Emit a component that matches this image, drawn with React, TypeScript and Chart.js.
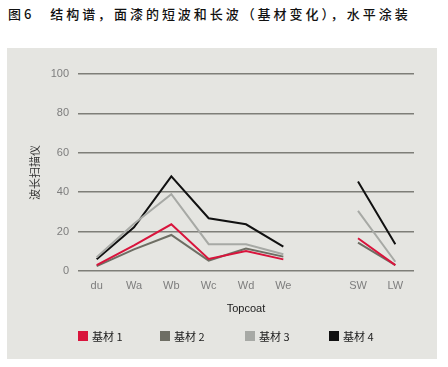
import React, { useEffect, useRef } from "react";
import { Chart, registerables } from "chart.js";

Chart.register(...registerables);

const titleText = "图6　结构谱，面漆的短波和长波（基材变化），水平涂装";
const categories = ["du", "Wa", "Wb", "Wc", "Wd", "We", "", "SW", "LW"];
const seriesNames = ["基材 1", "基材 2", "基材 3", "基材 4"];
const series1 = [3, 13, 23.7, 6.1, 10.2, 5.9, null, 16.6, 3];
const series2 = [2.5, 11, 18.3, 5.3, 11.4, 7.3, null, 14.4, 3];
const series3 = [7, 24, 39, 13.6, 13.6, 8.5, null, 30.5, 4.7];
const series4 = [6, 22.2, 48, 26.8, 23.7, 12.4, null, 45.4, 13.6];
const colors = ["#d9143c", "#6e6e64", "#a7a9a5", "#111111"];
const yTicks = [0, 20, 40, 60, 80, 100];
const xTitle = "Topcoat";
const yTitle = "波长扫描仪";

export default function App() {
  const ref = useRef<HTMLCanvasElement>(null);
  useEffect(() => {
    if (!ref.current) return;
    const allSeries = [series1, series2, series3, series4];
    const chart = new Chart(ref.current, {
      type: "line",
      data: {
        labels: categories,
        datasets: allSeries.map((d, i) => ({
          label: seriesNames[i],
          data: d,
          borderColor: colors[i],
          backgroundColor: colors[i],
          borderWidth: 2,
          pointRadius: 0,
          tension: 0,
          spanGaps: false,
        })),
      },
      options: {
        animation: false,
        responsive: false,
        maintainAspectRatio: false,
        layout: { padding: { top: 26, right: 23, left: 0, bottom: 38 } },
        plugins: {
          tooltip: { enabled: false },
          legend: { display: false },
        },
        scales: {
          x: {
            offset: true,
            afterFit: (scale: any) => {
              scale.height = 50;
            },
            grid: { display: false, drawTicks: false },
            border: { display: false },
            ticks: {
              color: "#7d7d7d",
              padding: 8,
              font: { family: "'Liberation Sans', sans-serif", size: 11 },
              maxRotation: 0,
              autoSkip: false,
            },
            title: {
              display: true,
              text: xTitle,
              color: "#222",
              padding: { top: 0, bottom: 5 },
              font: { family: "'Liberation Sans', sans-serif", size: 11 },
            },
          },
          y: {
            min: 0,
            max: 100,
            afterBuildTicks: (scale: any) => {
              scale.ticks = yTicks.map((v) => ({ value: v }));
            },
            afterFit: (scale: any) => {
              scale.width = 71;
            },
            grid: { color: "#7e7e78", lineWidth: 1.5, drawTicks: false },
            border: { display: false },
            ticks: {
              color: "#7d7d7d",
              padding: 9,
              font: { family: "'Liberation Sans', sans-serif", size: 11 },
            },
            title: {
              display: true,
              text: yTitle,
              color: "#333",
              padding: { top: 21, bottom: 0 },
              font: { family: "'Noto Sans CJK SC', sans-serif", size: 11 },
            },
          },
        },
      },
    });
    return () => chart.destroy();
  }, []);

  const legendX = [71, 153, 238, 322];

  return (
    <div style={{ position: "absolute", left: 0, top: 0, width: 448, height: 367, background: "#ffffff" }}>
      <div
        style={{
          position: "absolute",
          left: 8,
          top: 5,
          fontFamily: "'Noto Sans CJK SC', sans-serif",
          fontSize: 13,
          fontWeight: 500,
          letterSpacing: 2.95,
          color: "#111",
          whiteSpace: "nowrap",
          lineHeight: "18px",
        }}
      >
        {titleText}
      </div>
      <div style={{ position: "absolute", left: 7, top: 48, width: 430, height: 311, background: "#e5e5e1" }}>
        <canvas ref={ref} width={430} height={311} style={{ display: "block" }} />
        {seriesNames.map((name, i) => (
          <div
            key={name}
            style={{
              position: "absolute",
              left: legendX[i],
              top: 281,
              height: 14,
              display: "flex",
              alignItems: "center",
              fontFamily: "'Noto Sans CJK SC', sans-serif",
              fontSize: 11,
              color: "#222",
              whiteSpace: "nowrap",
            }}
          >
            <span style={{ display: "inline-block", width: 10, height: 10, background: colors[i], marginRight: 4 }} />
            <span style={{ lineHeight: "14px" }}>{name}</span>
          </div>
        ))}
      </div>
    </div>
  );
}
